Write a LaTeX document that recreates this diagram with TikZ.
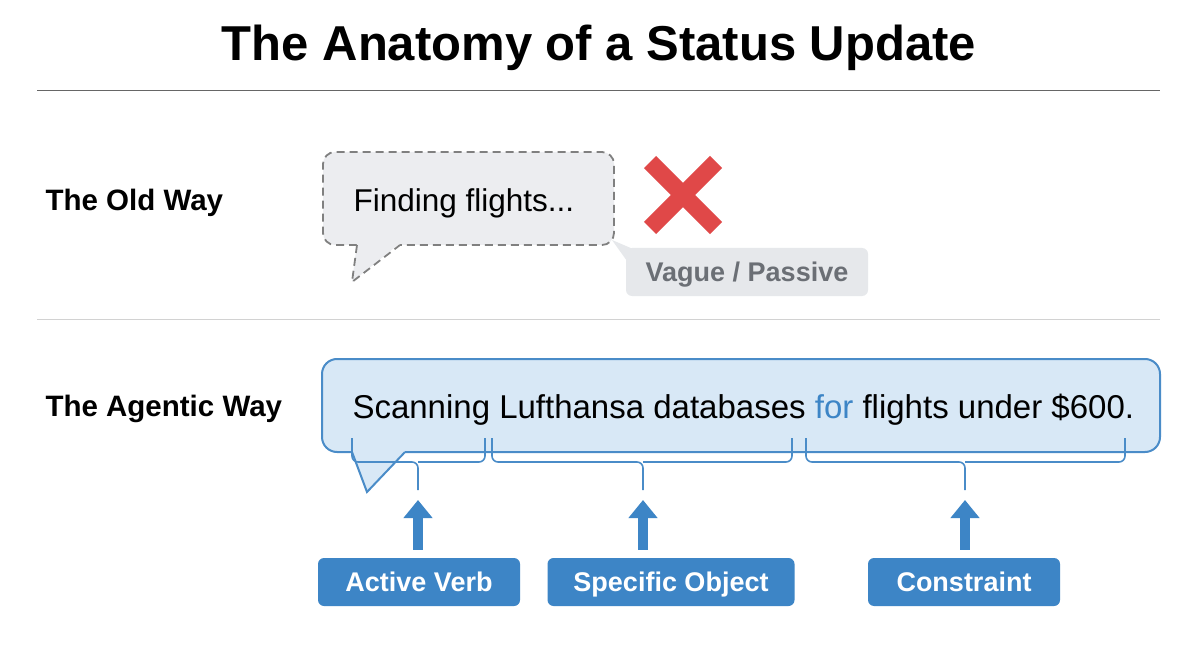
\documentclass[tikz,border=0pt]{standalone}
\usepackage{fontspec}
\setmainfont{Liberation Sans}
\usetikzlibrary{arrows.meta}
\definecolor{bluefill}{HTML}{D8E8F6}
\definecolor{blueline}{HTML}{4A8CC8}
\definecolor{bluebox}{HTML}{3D85C6}
\definecolor{grayfill}{HTML}{ECEDF0}
\definecolor{tagfill}{HTML}{E6E8EB}
\definecolor{taggray}{HTML}{6B6F75}
\definecolor{xred}{HTML}{E04848}
\begin{document}
\begin{tikzpicture}[x=1pt,y=-1pt,
  lbl/.style={anchor=west,font=\bfseries\fontsize{29.5}{34}\selectfont},
  brace/.style={draw=blueline,line width=1.6pt,rounded corners=6pt},
  up/.style={draw=bluebox,line width=10pt,-{Triangle[width=28pt,length=18pt]}},
  tag/.style={fill=bluebox,rounded corners=6pt,text=white,font=\bfseries\fontsize{27}{30}\selectfont,inner sep=0pt,minimum height=48pt,text height=21pt,text depth=2pt}]
\fill[white] (0,0) rectangle (1200,655);
\useasboundingbox (0,0) rectangle (1200,655);
\node[font=\bfseries\fontsize{49}{56}\selectfont] (title) at (599,48) {The Anatomy of a Status Update};
\draw[gray!80!black,line width=1pt] (37,91) -- (1160,91);
\draw[gray!35,line width=1pt] (37,319) -- (1160,319);
\node[lbl] (old) at (42,203) {The Old Way};
\node[lbl] (agentic) at (42,409) {The Agentic Way};
% old bubble
\fill[tagfill] (612,240) -- (640,252) -- (632,268) -- cycle;
\node[fill=tagfill,rounded corners=6pt,minimum width=242pt,minimum height=48pt,text=taggray,font=\bfseries\fontsize{27}{30}\selectfont,text height=21pt,text depth=2pt] (vague) at (747,272) {Vague / Passive};
\draw[gray,dashed,dash pattern=on 8pt off 5pt,line width=1.8pt,fill=grayfill,rounded corners=12pt]
  (357,245) -- (323,245) -- (323,152) -- (614,152) -- (614,245) -- (400,245);
\fill[grayfill] (357,243) -- (352,282) -- (400,243) -- cycle;
\draw[gray,dashed,dash pattern=on 8pt off 5pt,line width=1.8pt] (357,245) -- (352,282) -- (400,245);
\node[anchor=west,font=\fontsize{31.5}{36}\selectfont] (find) at (350,203) {Finding flights...};
\draw[xred,line width=17pt] (650,162) -- (716,228) (650,228) -- (716,162);
% agentic bubble
\draw[blueline,line width=2pt,fill=bluefill,rounded corners=15pt]
  (352,452) -- (322,452) -- (322,359) -- (1160,359) -- (1160,452) -- (405,452);
\fill[bluefill] (352,450) -- (367,492) -- (405,450) -- cycle;
\draw[blueline,line width=2pt] (352,452) -- (367,492) -- (405,452);
\node[anchor=west,font=\fontsize{33}{38}\selectfont] (scan) at (349,410) {Scanning Lufthansa databases \textcolor{bluebox}{for} flights under \$600.};
% braces
\coordinate (b1) at (418,490); \coordinate (b2) at (643,490); \coordinate (b3) at (965,490);
\draw[brace] (352,438) |- (418,462) -- (b1);
\draw[brace] (485,438) |- (418,462);
\draw[brace] (492,438) |- (643,462) -- (b2);
\draw[brace] (792,438) |- (643,462);
\draw[brace] (806,438) |- (965,462) -- (b3);
\draw[brace] (1125,438) |- (965,462);
% boxes
\node[tag,minimum width=202pt] (t1) at (419,582) {Active Verb};
\node[tag,minimum width=247pt] (t2) at (671,582) {Specific Object};
\node[tag,minimum width=192pt] (t3) at (964,582) {Constraint};
\draw[up] (t1.north -| b1) ++(0,-8) -- (418,500);
\draw[up] (t2.north -| b2) ++(0,-8) -- (643,500);
\draw[up] (t3.north -| b3) ++(0,-8) -- (965,500);
\end{tikzpicture}
\end{document}
